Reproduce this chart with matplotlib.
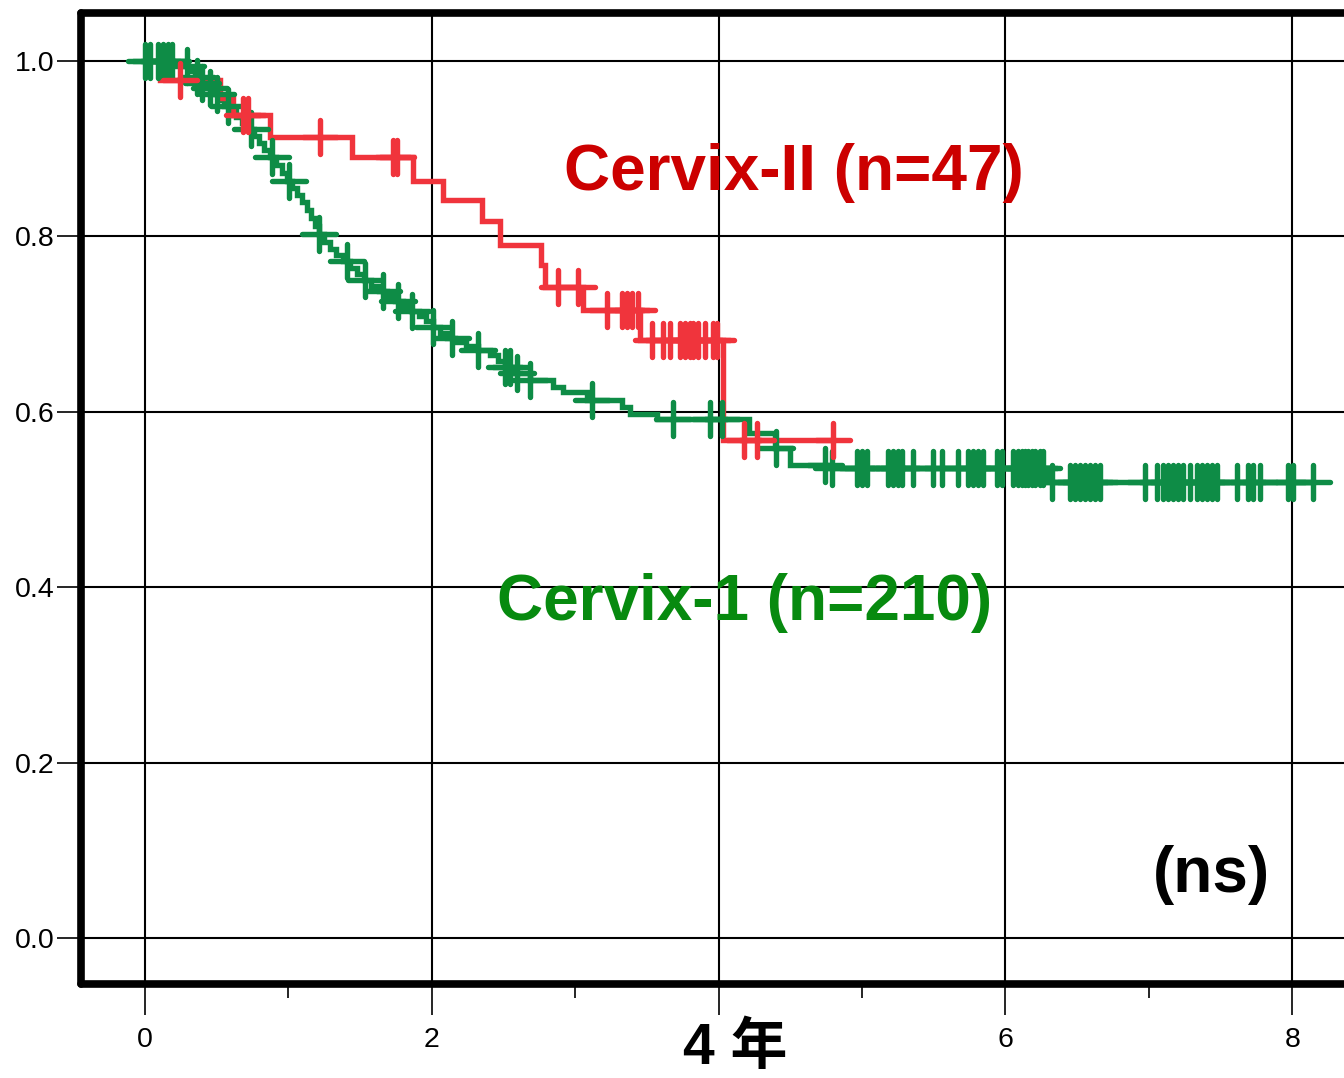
import numpy as np
import matplotlib
matplotlib.use("Agg")
import matplotlib.pyplot as plt
from matplotlib.markers import MarkerStyle
from matplotlib.ticker import MultipleLocator

plt.rcParams["font.family"] = ["Liberation Sans", "Noto Sans CJK SC", "DejaVu Sans"]

# Cervix-II (n=47): step times / survival after each drop, censor times
red_times = [0.105, 0.523, 0.614, 0.872, 1.444, 1.869, 2.078, 2.350, 2.476,
             2.760, 2.789, 3.054, 3.452, 4.031]
red_surv = [0.978, 0.958, 0.938, 0.913, 0.891, 0.863, 0.842, 0.818, 0.790,
            0.767, 0.742, 0.716, 0.682, 0.568]
red_cens = [0.244, 0.683, 0.718, 1.220, 1.729, 1.757, 2.880, 3.020, 3.222,
            3.326, 3.361, 3.396, 3.438, 3.536, 3.612, 3.661, 3.731, 3.766,
            3.801, 3.822, 3.856, 3.905, 3.961, 3.989, 4.177, 4.268, 4.798]
red_end = 4.798

# Cervix-1 (n=210)
green_times = [0.265, 0.300, 0.349, 0.391, 0.432, 0.467, 0.509, 0.551, 0.593,
               0.635, 0.676, 0.718, 0.760, 0.795, 0.830, 0.872, 0.914, 0.955,
               0.990, 1.025, 1.060, 1.095, 1.130, 1.158, 1.186, 1.213, 1.248,
               1.290, 1.332, 1.381, 1.430, 1.478, 1.527, 1.576, 1.632, 1.688,
               1.744, 1.799, 1.855, 1.911, 1.960, 2.008, 2.057, 2.106, 2.162,
               2.239, 2.322, 2.406, 2.462, 2.511, 2.559, 2.685, 2.845, 2.915,
               3.082, 3.327, 3.382, 3.571, 4.212, 4.394, 4.498, 4.777, 6.297]
green_surv = [0.994, 0.989, 0.982, 0.975, 0.969, 0.962, 0.956, 0.949, 0.943,
              0.936, 0.929, 0.922, 0.914, 0.906, 0.899, 0.891, 0.881, 0.872,
              0.863, 0.855, 0.847, 0.839, 0.830, 0.821, 0.812, 0.803, 0.794,
              0.786, 0.779, 0.772, 0.764, 0.757, 0.750, 0.743, 0.738, 0.732,
              0.726, 0.721, 0.715, 0.709, 0.704, 0.697, 0.690, 0.684, 0.680,
              0.675, 0.670, 0.665, 0.658, 0.651, 0.644, 0.636, 0.628, 0.623,
              0.613, 0.605, 0.597, 0.592, 0.576, 0.559, 0.539, 0.536, 0.520]
green_cens = [0.0, 0.035, 0.091, 0.126, 0.160, 0.188, 0.293, 0.363, 0.397,
              0.453, 0.502, 0.579, 0.739, 0.886, 1.004, 1.213, 1.409, 1.534,
              1.660, 1.764, 1.862, 2.008, 2.141, 2.322, 2.511, 2.545, 2.594,
              2.685, 3.117, 3.682, 3.940, 4.024, 4.400, 4.742,
              4.791, 4.965, 5.000, 5.035, 5.181, 5.216, 5.251, 5.279, 5.356,
              5.495, 5.558, 5.669, 5.739, 5.774, 5.809, 5.844, 5.941, 5.976,
              6.053, 6.088, 6.116, 6.137, 6.158, 6.186, 6.206, 6.241, 6.262,
              6.325, 6.451, 6.485, 6.520, 6.555, 6.590, 6.625, 6.660, 6.974,
              7.057, 7.099, 7.134, 7.169, 7.204, 7.238, 7.287, 7.336, 7.371,
              7.406, 7.441, 7.476, 7.615, 7.692, 7.727, 7.776, 7.971, 8.006,
              8.145]
green_end = 8.145

x_ticks = [0, 2, 4, 6, 8]
x_ticklabels = ["0", "2", "", "6", "8"]  # the "4" is part of the big "4 年" label

RED_LINE = "#F0343C"
GREEN_LINE = "#0E8C46"
RED_TEXT = "#CC0000"
GREEN_TEXT = "#078A0F"


def km_curve(ax, times, surv, cens, end, color):
    x = np.r_[0.0, times, end]
    y = np.r_[1.0, surv, surv[-1]]
    ax.plot(x, y, drawstyle="steps-post", color=color, lw=3.9,
            solid_capstyle="round", solid_joinstyle="miter", zorder=3)
    levels = np.r_[1.0, surv]
    cy = levels[np.searchsorted(times, cens, side="right")]
    mk = MarkerStyle("+", capstyle="round")
    ax.plot(cens, cy, ls="none", marker=mk, ms=24, mew=3.9, color=color, zorder=4)


fig = plt.figure(figsize=(13.44, 10.78), dpi=100)
ax = fig.add_axes([0.0603, 0.0872, 0.9397, 0.9003])

km_curve(ax, green_times, green_surv, green_cens, green_end, GREEN_LINE)
km_curve(ax, red_times, red_surv, red_cens, red_end, RED_LINE)

ax.set_xlim(-0.446, 8.361)
ax.set_ylim(-0.0524, 1.0542)
ax.set_xticks(x_ticks)
ax.set_xticklabels(x_ticklabels)
ax.xaxis.set_minor_locator(MultipleLocator(1))
ax.yaxis.set_major_locator(MultipleLocator(0.2))
ax.yaxis.set_major_formatter(plt.FuncFormatter(lambda v, p: f"{v:.1f}"))

ax.grid(True, which="major", color="black", lw=1.5, zorder=1)
ax.set_axisbelow(True)
ax.tick_params(axis="both", which="major", direction="out", width=1.2,
               labelsize=20.5, colors="black")
ax.tick_params(axis="x", which="major", length=22, pad=9)
ax.tick_params(axis="x", which="minor", length=10, width=1.2)
ax.tick_params(axis="y", which="major", length=17, pad=2)

for side in ["left", "top", "bottom"]:
    ax.spines[side].set_linewidth(5.5)
    ax.spines[side].set_capstyle("round")
ax.spines["right"].set_visible(False)

ax.text(2.92, 0.853, "Cervix-II (n=47)", color=RED_TEXT, fontsize=46,
        fontweight="bold", ha="left", va="baseline", zorder=5)
ax.text(2.455, 0.3626, "Cervix-1 (n=210)", color=GREEN_TEXT, fontsize=46,
        fontweight="bold", ha="left", va="baseline", zorder=5)
ax.text(7.029, 0.0525, "(ns)", color="black", fontsize=46,
        fontweight="bold", ha="left", va="baseline", zorder=5)

fig.text(735 / 1344, 1 - 1049 / 1078, "4 年", fontsize=41, fontweight="bold",
         ha="center", va="center")

fig.savefig("out.png", dpi=100)
